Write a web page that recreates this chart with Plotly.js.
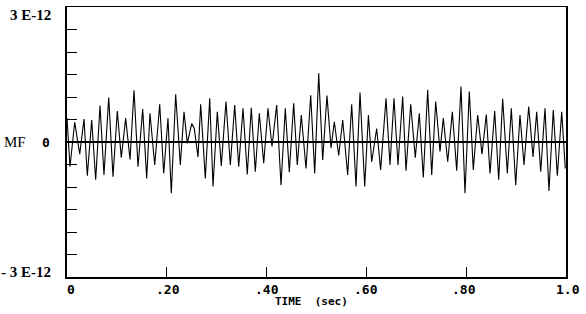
<!DOCTYPE html>
<html>
<head>
<meta charset="utf-8">
<script src="https://cdn.plot.ly/plotly-3.0.1.min.js"></script>
<style>html,body{margin:0;padding:0;background:#fff;}#chart{width:586px;height:314px;}</style>
</head>
<body>
<div id="chart"></div>
<script>
// Time in seconds
const timeSec = [
0.000,0.006,0.0154,0.0255,0.0341,0.0407,0.0495,0.0575,0.0661,0.0741,
0.0836,0.0922,0.1008,0.1088,0.1176,0.1263,0.1343,0.1423,0.1517,0.1597,
0.1663,0.1758,0.1858,0.1938,0.2024,0.2090,0.2178,0.2271,0.2345,0.2411,
0.2499,0.2551,0.2625,0.2679,0.2772,0.2860,0.2926,0.3012,0.3092,0.3186,
0.3273,0.3361,0.3441,0.3527,0.3613,0.3693,0.3774,0.3854,0.3942,0.4028,
0.4108,0.4202,0.4289,0.4375,0.4455,0.4543,0.4615,0.4695,0.4790,0.4884,
0.4964,0.5044,0.5124,0.5210,0.5291,0.5357,0.5445,0.5525,0.5625,0.5705,
0.5792,0.5872,0.5966,0.6040,0.6106,0.6206,0.6285,0.6393,0.6473,0.6553,
0.6633,0.6727,0.6794,0.6888,0.6980,0.7060,0.7140,0.7228,0.7309,0.7389,
0.7475,0.7541,0.7629,0.7722,0.7810,0.7896,0.7976,0.8062,0.8142,0.8230,
0.8317,0.8403,0.8477,0.8571,0.8651,0.8731,0.8824,0.8904,0.8992,0.9078,
0.9158,0.9253,0.9339,0.9413,0.9493,0.9579,0.9659,0.9745,0.9826,0.9914,
0.9986
];
// MF amplitude in units of 1E-12
const mfValue = [
0.53,-0.55,0.44,-0.27,0.51,-0.75,0.49,-0.84,0.81,-0.73,
0.99,-0.77,0.69,-0.35,0.53,-0.39,1.15,-0.55,0.73,-0.81,
0.64,-0.51,0.84,-0.70,0.53,-1.14,1.06,-0.51,0.67,-0.03,
0.41,0.30,-0.33,0.84,-0.81,0.97,-0.99,0.67,-0.53,0.90,
-0.51,0.82,-0.55,0.75,-0.72,0.76,-0.66,0.64,-0.47,0.75,
-0.10,0.82,-0.96,0.75,-0.67,0.86,-0.51,0.60,-0.59,1.04,
-0.70,1.53,-0.40,1.03,-0.13,0.45,-0.30,0.49,-0.73,0.84,
-0.99,1.10,-0.99,0.60,-0.44,0.30,-0.62,0.97,-0.51,0.97,
-0.51,1.01,-0.64,0.84,-0.35,0.64,-0.79,1.16,-0.73,0.90,
-0.21,0.53,-0.44,0.67,-0.64,1.23,-1.14,1.12,-0.62,0.60,
-0.27,0.61,-0.70,0.69,-0.84,0.96,-0.70,0.75,-0.96,0.60,
-0.51,0.79,-0.33,0.67,-0.66,0.75,-1.09,0.71,-0.75,0.67,
-0.59
];
const xTickVals = [0, 0.2, 0.4, 0.6, 0.8, 1.0];
const xTickText = ["0", ".20", ".40", ".60", ".80", "1.0"];
const xMajorTicks = [0.2, 0.4, 0.6, 0.8];
const yTickVals = [-2.5,-2,-1.5,-1,-0.5,0.5,1,1.5,2,2.5];
const yLabels = ["3 E-12", "0", "-&nbsp;3 E-12"];
const yLabelVals = [3, 0, -3];

const mono = "DejaVu Sans Mono, monospace";
const serif = "Liberation Serif, Times New Roman, serif";

const trace = {
  x: timeSec, y: mfValue, type: "scatter", mode: "lines",
  line: {color: "#000", width: 1.1}, hoverinfo: "skip"
};

const annotations = [
  {text: "<b>" + yLabels[0] + "</b>", x: 0, xref: "paper", xanchor: "right", xshift: -14,
   y: yLabelVals[0], yref: "y", yanchor: "middle", yshift: -8, showarrow: false,
   font: {family: serif, size: 15, color: "#000"}},
  {text: "<b>" + yLabels[1] + "</b>", x: 0, xref: "paper", xanchor: "right", xshift: -15,
   y: yLabelVals[1], yref: "y", yanchor: "middle", showarrow: false,
   font: {family: mono, size: 13, color: "#000"}},
  {text: "<b>" + yLabels[2] + "</b>", x: 0, xref: "paper", xanchor: "right", xshift: -14,
   y: yLabelVals[2], yref: "y", yanchor: "middle", yshift: 5, showarrow: false,
   font: {family: serif, size: 15, color: "#000"}},
  {text: "MF", x: 0, xref: "paper", xanchor: "left", xshift: -65,
   y: 0, yref: "y", yanchor: "middle", showarrow: false,
   font: {family: serif, size: 15, color: "#000"}},
  {text: "<b>TIME&nbsp;&nbsp;(sec)</b>", x: 0.49, xref: "paper", xanchor: "center",
   y: 0, yref: "paper", yanchor: "top", yshift: -16, showarrow: false,
   font: {family: mono, size: 11, color: "#000"}}
];
const xShifts = [4, 1, 0, 0, -2, 2];
xTickVals.forEach((v, i) => {
  annotations.push({
    text: "<b>" + xTickText[i] + "</b>", x: v, xref: "x", xanchor: "center", xshift: xShifts[i],
    y: 0, yref: "paper", yanchor: "top", yshift: -3, showarrow: false,
    font: {family: mono, size: 13, color: "#000"}
  });
});

const layout = {
  width: 586, height: 314,
  margin: {l: 67, r: 20, t: 7, b: 37, pad: 0},
  paper_bgcolor: "#fff", plot_bgcolor: "#fff",
  showlegend: false,
  xaxis: {
    range: [0, 1], showgrid: false, zeroline: false,
    showline: true, linecolor: "#000", linewidth: 1.5, mirror: true,
    ticks: "inside", ticklen: 10, tickwidth: 1, tickcolor: "#000",
    tickvals: xMajorTicks, showticklabels: false
  },
  yaxis: {
    range: [-3, 3], showgrid: false,
    zeroline: true, zerolinecolor: "#000", zerolinewidth: 1.2,
    showline: true, linecolor: "#000", linewidth: 2, mirror: true,
    ticks: "inside", ticklen: 10, tickwidth: 1, tickcolor: "#000",
    tickvals: yTickVals, showticklabels: false
  },
  annotations: annotations
};

Plotly.newPlot("chart", [trace], layout, {staticPlot: true, displayModeBar: false});
</script>
</body>
</html>
